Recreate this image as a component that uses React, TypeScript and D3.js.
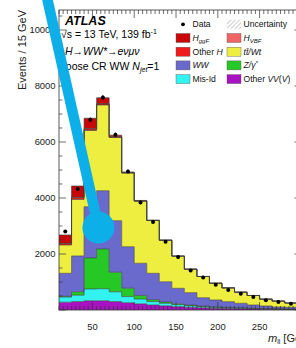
import * as d3 from 'd3';
import React from 'react';

// m_ll bins, 15 GeV wide, low edges
const binLow = [10, 25, 40, 55, 70, 85, 100, 115, 130, 145, 160, 175, 190, 205, 220, 235, 250, 265, 280, 295];
const binWidth = 15;

// stacked backgrounds / signals, events per bin
const otherVV = [280, 300, 330, 330, 300, 260, 220, 180, 150, 120, 100, 80, 60, 50, 40, 34, 28, 23, 19, 16];
const misId = [180, 230, 420, 430, 350, 220, 170, 120, 90, 70, 55, 45, 35, 28, 22, 18, 15, 12, 10, 8];
const zgamma = [30, 120, 1110, 1420, 700, 300, 130, 70, 45, 30, 20, 15, 12, 10, 8, 7, 6, 5, 4, 3];
const ww = [820, 1280, 1830, 2080, 1840, 1480, 1150, 940, 725, 555, 445, 300, 250, 210, 170, 120, 94, 67, 63, 55];
const ttbar = [1010, 2020, 2720, 3060, 2974, 2630, 2217, 1885, 1480, 1147, 836, 755, 599, 491, 397, 339, 245, 211, 153, 119];
const otherH = [50, 60, 50, 35, 12, 8, 5, 3, 2, 2, 1, 1, 1, 1, 1, 0, 0, 0, 0, 0];
const hVBF = [10, 20, 20, 15, 8, 5, 4, 3, 2, 2, 1, 1, 1, 1, 0, 0, 0, 0, 0, 0];
const hggF = [300, 400, 370, 210, 60, 27, 16, 9, 6, 4, 4, 3, 2, 1, 1, 1, 1, 1, 1, 1];
const dataCounts = [2800, 4320, 6790, 7590, 6260, 4950, 3840, 3140, 2440, 1890, 1410, 1160, 900, 714, 582, 464, 350, 286, 225, 180];

// the 300 label falls outside the picture
const xTicks = [50, 100, 150, 200, 250];
const yTicks = [2000, 4000, 6000, 8000, 10000];

// bottom -> top
const layers = [
  { key: 'otherVV', values: otherVV, color: '#a812c2' },
  { key: 'misId', values: misId, color: '#33f2f2' },
  { key: 'zgamma', values: zgamma, color: '#26c826' },
  { key: 'ww', values: ww, color: '#6a6acc' },
  { key: 'ttbar', values: ttbar, color: '#eeee40' },
  { key: 'otherH', values: otherH, color: '#ee1c1c' },
  { key: 'hVBF', values: hVBF, color: '#f26464' },
  { key: 'hggF', values: hggF, color: '#c80808' },
];

const font = '"Liberation Sans", Arial, Helvetica, sans-serif';

const App = () => {
  const width = 296;
  const height = 348;
  const left = 59;
  const right = 301.4;
  const top = 10;
  const bottom = 310;

  const x = d3.scaleLinear().domain([10, 300]).range([left, right]);
  const y = d3.scaleLinear().domain([0, 10714]).range([bottom, top]);

  const rows = binLow.map((lo, i) => {
    const r: any = { lo };
    layers.forEach((l) => (r[l.key] = l.values[i]));
    return r;
  });
  // extra point so the last step has a right edge
  const rowsExt = [...rows, { ...rows[rows.length - 1], lo: binLow[binLow.length - 1] + binWidth }];
  const stacked = d3.stack().keys(layers.map((l) => l.key))(rowsExt);

  const area = d3
    .area<any>()
    .curve(d3.curveStepAfter)
    .x((d) => x(d.data.lo))
    .y0((d) => y(d[0]))
    .y1((d) => y(d[1]));
  const topLine = d3
    .line<any>()
    .curve(d3.curveStepAfter)
    .x((d) => x(d.data.lo))
    .y((d) => y(d[1]));

  const xMinor = d3.range(10, 301, 5);
  const yMinor = d3.range(0, 10714, 500);

  // pointer annotation drawn over the plot
  const pStart = [x(-6.4), y(11430)];
  const pEnd = [x(57.2), y(2946)];

  const legendLeft = [
    { label: 'Data', type: 'data' },
    { label: 'ggF', type: 'box', color: '#c80808', h: true },
    { label: 'Other ', type: 'box', color: '#ee1c1c', hAfter: true },
    { label: 'WW', type: 'box', color: '#6a6acc', italic: true },
    { label: 'Mis-Id', type: 'box', color: '#33f2f2' },
  ];
  const legendRight = [
    { label: 'Uncertainty', type: 'hatch' },
    { label: 'VBF', type: 'box', color: '#f26464', h: true },
    { label: 'tt̄/Wt', type: 'box', color: '#eeee40', italic: true },
    { label: 'Z/γ*', type: 'box', color: '#26c826', italic: true, zg: true },
    { label: 'Other ', type: 'box', color: '#a812c2', vv: true },
  ];

  const renderLabel = (it: any, tx: number, ty: number) => {
    if (it.h)
      return (
        <text x={tx} y={ty} fontStyle="italic">
          H<tspan fontSize="6" dy="2">{it.label}</tspan>
        </text>
      );
    if (it.hAfter)
      return (
        <text x={tx} y={ty}>
          {it.label}
          <tspan fontStyle="italic">H</tspan>
        </text>
      );
    if (it.zg)
      return (
        <text x={tx} y={ty} fontStyle="italic">
          Z/γ<tspan fontSize="6" dy="-3">*</tspan>
        </text>
      );
    if (it.vv)
      return (
        <text x={tx} y={ty}>
          {it.label}
          <tspan fontStyle="italic">VV</tspan>(<tspan fontStyle="italic">V</tspan>)
        </text>
      );
    return (
      <text x={tx} y={ty} fontStyle={it.italic ? 'italic' : 'normal'}>
        {it.label}
      </text>
    );
  };

  const renderLegend = (items: any[], bx: number) =>
    items.map((it, i) => {
      const cy = 24.3 + i * 13.7;
      return (
        <g key={it.label + i}>
          {it.type === 'data' && <circle cx={bx + 7} cy={cy} r={1.9} fill="#000" />}
          {it.type === 'box' && (
            <rect x={bx} y={cy - 4.5} width={14} height={9} fill={it.color} stroke="#555" strokeWidth={0.4} />
          )}
          {it.type === 'hatch' && <rect x={bx} y={cy - 4.5} width={14} height={9} fill="url(#hatch)" />}
          {renderLabel(it, bx + 16.5, cy + 3)}
        </g>
      );
    });

  return (
    <svg
      width={width}
      height={height}
      style={{ position: 'absolute', left: 0, top: 0, background: '#fff' }}
      fontFamily={font}
    >
      <defs>
        <clipPath id="plot">
          <rect x={left} y={top} width={right - left} height={bottom - top} />
        </clipPath>
        <pattern id="hatch" width="3" height="3" patternUnits="userSpaceOnUse" patternTransform="rotate(45)">
          <line x1="0" y1="0" x2="0" y2="3" stroke="#999" strokeWidth="1" />
        </pattern>
      </defs>

      <g clipPath="url(#plot)">
        {stacked.map((s, i) => (
          <path key={s.key} d={area(s as any) || ''} fill={layers[i].color} />
        ))}
        {stacked.map((s) => (
          <path key={s.key + 'l'} d={topLine(s as any) || ''} fill="none" stroke="#3c3c3c" strokeWidth={0.6} />
        ))}
        {dataCounts.map((v, i) => {
          const cx = x(binLow[i] + binWidth / 2);
          const err = Math.sqrt(v);
          return (
            <g key={i}>
              <line x1={cx} x2={cx} y1={y(v - err)} y2={y(v + err)} stroke="#000" strokeWidth={0.8} />
              <circle cx={cx} cy={y(v)} r={2} fill="#000" />
            </g>
          );
        })}
      </g>

      {/* frame and ticks */}
      <rect x={left} y={top} width={right - left} height={bottom - top} fill="none" stroke="#333" strokeWidth={0.8} />
      <g stroke="#333" strokeWidth={0.7}>
        {xMinor.map((t) => {
          const len = t % 50 === 0 ? 8 : 4;
          return (
            <g key={'xt' + t}>
              <line x1={x(t)} x2={x(t)} y1={bottom} y2={bottom - len} />
              <line x1={x(t)} x2={x(t)} y1={top} y2={top + len} />
            </g>
          );
        })}
        {yMinor.map((t) => {
          const len = t % 2000 === 0 ? 7 : 3.5;
          return (
            <g key={'yt' + t}>
              <line x1={left} x2={left + len} y1={y(t)} y2={y(t)} />
              <line x1={right} x2={right - len} y1={y(t)} y2={y(t)} />
            </g>
          );
        })}
      </g>

      {/* tick labels */}
      <g fontSize="9.4" fill="#222">
        {yTicks.map((t) => (
          <text key={t} x={left - 3.5} y={y(t) + 3.3} textAnchor="end">
            {t}
          </text>
        ))}
        {xTicks.map((t) => (
          <text key={t} x={x(t)} y={329.5} textAnchor="middle">
            {t}
          </text>
        ))}
      </g>

      {/* axis titles */}
      <text transform="translate(26,10) rotate(-90)" textAnchor="end" fontSize="11" fill="#222">
        Events / 15 GeV
      </text>
      <text x={268} y={341.5} fontSize="11" fill="#222">
        <tspan fontStyle="italic">m</tspan>
        <tspan fontSize="7" dy="2">ll</tspan>
        <tspan dy="-2"> [GeV]</tspan>
      </text>

      {/* ATLAS label */}
      <text x={65} y={25} fontSize="12.5" fontWeight="bold" fontStyle="italic" fill="#000">
        ATLAS
      </text>
      <g fontSize="10.5" fill="#000">
        <text x={61} y={37.5}>
          √s = 13 TeV, 139 fb<tspan fontSize="7" dy="-4">-1</tspan>
        </text>
        <text x={65} y={55} fontStyle="italic">
          H→WW*→eνμν
        </text>
        <text x={60} y={70}>
          Loose CR WW <tspan fontStyle="italic">N</tspan>
          <tspan fontSize="7" dy="2" fontStyle="italic">jet</tspan>
          <tspan dy="-2">=1</tspan>
        </text>
      </g>

      {/* legend */}
      <g fontSize="8.6" fill="#111">
        {renderLegend(legendLeft, 176)}
        {renderLegend(legendRight, 227)}
      </g>

      {/* pointer annotation */}
      <line x1={pStart[0]} y1={pStart[1]} x2={pEnd[0]} y2={pEnd[1]} stroke="#0dafe9" strokeWidth={10.5} />
      <circle cx={pEnd[0]} cy={pEnd[1]} r={16} fill="#0dafe9" />
    </svg>
  );
};

export default App;
